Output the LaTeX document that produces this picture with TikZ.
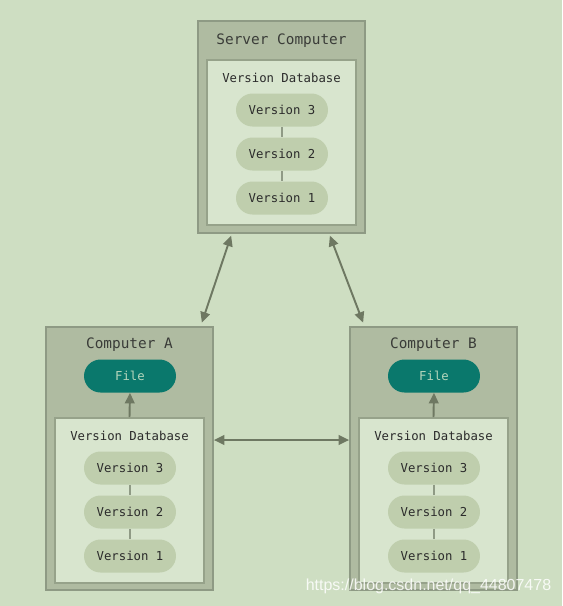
\documentclass[tikz,border=0pt]{standalone}
\usepackage{fontspec}
\setmonofont{DejaVu Sans Mono}
\newfontfamily\markfont{Liberation Sans}
\usetikzlibrary{arrows.meta}
\definecolor{bggreen}{HTML}{CEDEC2}
\definecolor{outerfill}{HTML}{AFBBA1}
\definecolor{outerline}{HTML}{8E9A84}
\definecolor{innerfill}{HTML}{D8E5CE}
\definecolor{innerline}{HTML}{96A28A}
\definecolor{pillfill}{HTML}{BFCEAD}
\definecolor{linkgray}{HTML}{8F9A85}
\definecolor{arrowgray}{HTML}{6E7862}
\definecolor{fileteal}{HTML}{0A786C}
\definecolor{filetext}{HTML}{B5D6BC}
\definecolor{txtdark}{HTML}{2B2B2B}
\tikzset{
  computer/.style={draw=outerline, fill=outerfill, line width=1pt, minimum width=3.34cm},
  database/.style={draw=innerline, fill=innerfill, line width=1pt, minimum width=2.98cm, minimum height=3.3cm},
  version/.style={fill=pillfill, rounded corners=0.33cm, minimum width=1.84cm, minimum height=0.66cm,
    font=\ttfamily\fontsize{7}{8}\selectfont, text=txtdark},
  file/.style={version, fill=fileteal, text=filetext},
  title/.style={font=\ttfamily\fontsize{8.2}{9}\selectfont, text=txtdark!85!outerline},
  dbtitle/.style={font=\ttfamily\fontsize{7}{8}\selectfont, text=txtdark},
  link/.style={draw=linkgray, line width=1pt},
  sync/.style={draw=arrowgray, line width=1.1pt, {Triangle[length=6pt,width=5.5pt]}-{Triangle[length=6pt,width=5.5pt]}},
  checkout/.style={draw=arrowgray, line width=1.1pt, -{Triangle[length=6pt,width=5.5pt]}}
}
\begin{document}
\begin{tikzpicture}[x=0.02cm,y=-0.02cm]
  \fill[bggreen] (0,0) rectangle (562,606);
  \useasboundingbox (0,0) rectangle (562,606);
  % server
  \node[computer, minimum height=4.24cm] (server) at (281.5,127) {};
  \node[title] (servertitle) at (281.5,41) {Server Computer};
  \node[database] (dbS) at (281.5,142.5) {};
  \node[dbtitle] (dbStitle) at (281.5,78) {Version Database};
  \foreach \n/\y in {3/110,2/154,1/198}
    \node[version] (s\n) at (282,\y) {Version \n};
  \draw[link] (s3) -- (s2) (s2) -- (s1);
  % computer A
  \node[computer, minimum height=5.26cm] (compA) at (129.5,458.5) {};
  \node[title] (compAtitle) at (129.5,345) {Computer A};
  \node[file] (fileA) at (130,376) {File};
  \node[database] (dbA) at (129.5,500.5) {};
  \node[dbtitle] (dbAtitle) at (129.5,436) {Version Database};
  \foreach \n/\y in {3/468,2/512,1/556}
    \node[version] (a\n) at (130,\y) {Version \n};
  \draw[link] (a3) -- (a2) (a2) -- (a1);
  \draw[checkout] (dbA.north) -- (fileA.south);
  % computer B
  \node[computer, minimum height=5.26cm] (compB) at (433.5,458.5) {};
  \node[title] (compBtitle) at (433.5,345) {Computer B};
  \node[file] (fileB) at (434,376) {File};
  \node[database] (dbB) at (433.5,500.5) {};
  \node[dbtitle] (dbBtitle) at (433.5,436) {Version Database};
  \foreach \n/\y in {3/468,2/512,1/556}
    \node[version] (b\n) at (434,\y) {Version \n};
  \draw[link] (b3) -- (b2) (b2) -- (b1);
  \draw[checkout] (dbB.north) -- (fileB.south);
  % sync arrows
  \draw[sync] ([xshift=0.68cm,yshift=-1pt]server.south west) -- ([xshift=-0.24cm,yshift=2pt]compA.north east);
  \draw[sync] ([xshift=-0.72cm,yshift=-1pt]server.south east) -- ([xshift=0.28cm,yshift=2pt]compB.north west);
  \draw[sync] ([yshift=0.37cm]compA.east) -- ([yshift=0.37cm]compB.west);
  % watermark
  \node[text=white, opacity=0.85, font=\markfont\fontsize{9.1}{10}\selectfont] (mark) at (428.5,586) {https://blog.csdn.net/qq\_44807478};
\end{tikzpicture}
\end{document}
